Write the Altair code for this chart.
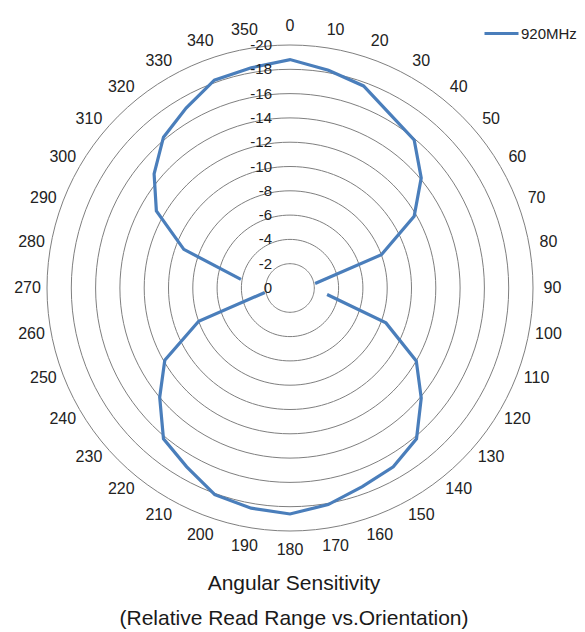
import altair as alt
import pandas as pd
import numpy as np

# ---- data ----
angles = [0, 10, 20, 30, 40, 50, 60, 70, 80, 90, 100, 110, 120, 130, 140, 150, 160, 170,
          180, 190, 200, 210, 220, 230, 240, 250, 260, 270, 280, 290, 300, 310, 320, 330, 340, 350]
values = [-18.8, -18.2, -17.7, -16.5, -15.9, -14.1, -11.8, -8.0, -2.1, None, -3.1, -8.4, -12.0, -14.1,
          -16.2, -17.0, -17.4, -18.1, -18.6, -18.4, -18.1, -17.0, -16.2, -14.0, -11.9, -8.0, -2.1, None,
          -4.1, -9.3, -12.7, -14.6, -16.2, -17.1, -18.2, -18.4]
series_name = "920MHz"
ring_ticks = [0, -2, -4, -6, -8, -10, -12, -14, -16, -18, -20]
ring_tick_labels = ["0", "-2", "-4", "-6", "-8", "-10", "-12", "-14", "-16", "-18", "-20"]
angle_ticks = list(range(0, 360, 10))

# ---- layout constants ----
PX = 12.15          # pixels per unit
W, H = 564, 556
CX, CY = 282, 280   # centre in plot pixels
XD = [-CX / PX, (W - CX) / PX]
YD = [-(H - CY) / PX, CY / PX]
LABEL_R = 21.6
FONT = "Liberation Sans"

xs = alt.Scale(domain=XD, nice=False, zero=False)
ys = alt.Scale(domain=YD, nice=False, zero=False)

df = pd.DataFrame({"angle": angles, "value": values})
df = df.dropna()
df["series"] = series_name

steps = np.arange(0, 361, 3)
ring_df = pd.DataFrame([(r, s) for r in ring_ticks[1:] for s in steps], columns=["ring", "step"])
ring_lab_df = pd.DataFrame({"ring": ring_ticks, "label": ring_tick_labels})
ang_df = pd.DataFrame({"angle": angle_ticks})

rings = alt.Chart(ring_df).transform_calculate(
    x="abs(datum.ring) * sin(datum.step * PI / 180)",
    y="abs(datum.ring) * cos(datum.step * PI / 180)",
).mark_line(stroke="#7f7f7f", strokeWidth=1).encode(
    x=alt.X("x:Q", scale=xs, axis=None),
    y=alt.Y("y:Q", scale=ys, axis=None),
    detail="ring:N",
    order="step:Q",
)

line = alt.Chart(df).transform_calculate(
    x="abs(datum.value) * sin(datum.angle * PI / 180)",
    y="abs(datum.value) * cos(datum.angle * PI / 180)",
    seg="(datum.angle < 90 || datum.angle > 270) ? 0 : 1",
    ord="(datum.angle + 90) % 360",
).mark_line(strokeWidth=3.2).encode(
    x=alt.X("x:Q", scale=xs, axis=None),
    y=alt.Y("y:Q", scale=ys, axis=None),
    detail="seg:N",
    order="ord:Q",
    color=alt.Color(
        "series:N",
        scale=alt.Scale(domain=[series_name], range=["#4A7EBB"]),
        legend=alt.Legend(
            title=None, orient="none", legendX=475, legendY=7,
            symbolType="stroke", symbolSize=1156, symbolStrokeWidth=3,
            labelFontSize=15, labelFont=FONT, labelColor="#222222",
            labelOffset=1, padding=0,
        ),
    ),
)

ring_labels = alt.Chart(ring_lab_df).transform_calculate(
    zx="0",
    y="abs(datum.ring)",
).mark_text(align="right", baseline="middle", dx=-18, fontSize=15, font=FONT, color="#222222").encode(
    x=alt.X("zx:Q", scale=xs, axis=None),
    y=alt.Y("y:Q", scale=ys, axis=None),
    text="label:N",
)

angle_labels = alt.Chart(ang_df).transform_calculate(
    x=f"{LABEL_R} * sin(datum.angle * PI / 180)",
    y=f"{LABEL_R} * cos(datum.angle * PI / 180)",
).mark_text(align="center", baseline="middle", fontSize=16, font=FONT, color="#222222").encode(
    x=alt.X("x:Q", scale=xs, axis=None),
    y=alt.Y("y:Q", scale=ys, axis=None),
    text="angle:N",
)

chart = alt.layer(rings, line, ring_labels, angle_labels).properties(
    width=W,
    height=H,
    padding=0,
    title=alt.TitleParams(
        text="Angular Sensitivity",
        subtitle="(Relative Read Range vs.Orientation)",
        orient="bottom",
        anchor="middle",
        fontSize=21,
        fontWeight="normal",
        font=FONT,
        color="#1a1a1a",
        subtitleFontSize=21,
        subtitleFont=FONT,
        subtitleColor="#1a1a1a",
        offset=9,
        subtitlePadding=14,
        dx=4,
    ),
).configure_view(stroke=None)

chart.save("out.html", embed_options={"renderer": "svg", "actions": False})
